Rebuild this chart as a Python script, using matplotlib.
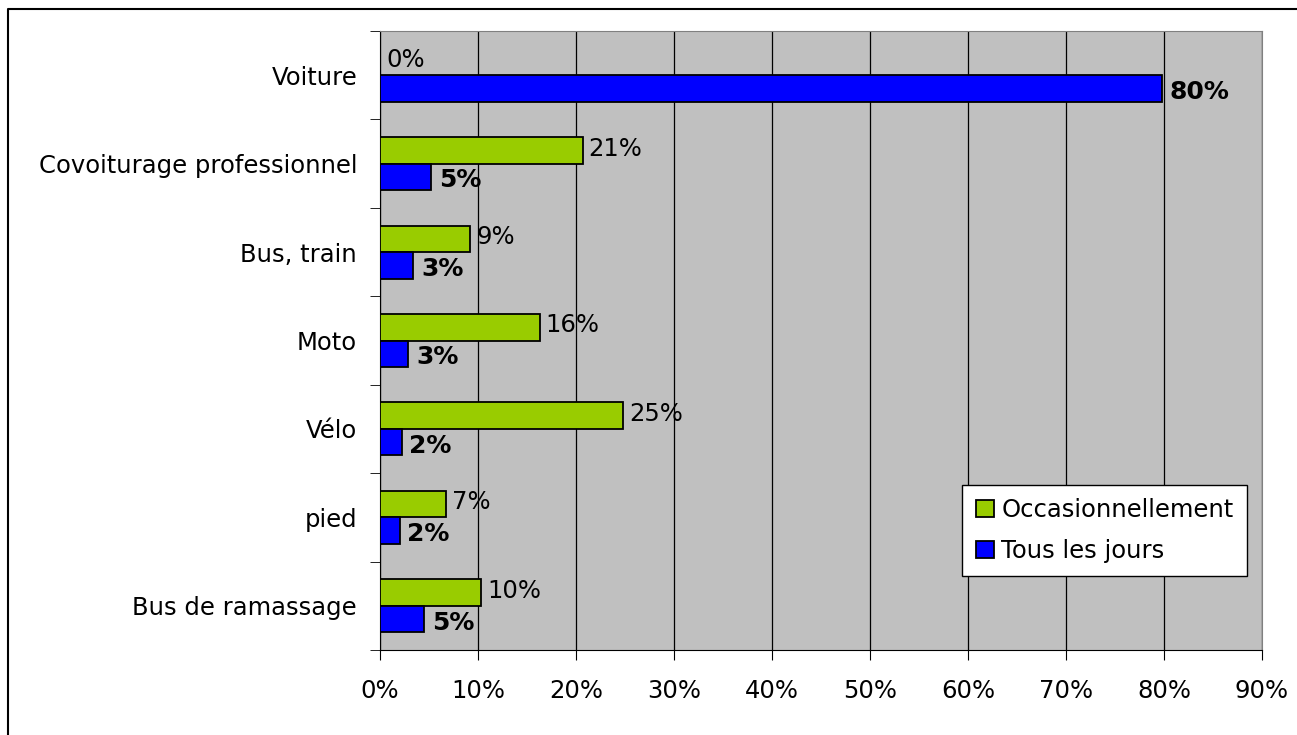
import matplotlib
matplotlib.use("Agg")
import matplotlib.pyplot as plt
from matplotlib.lines import Line2D
import numpy as np

categories = ["Voiture", "Covoiturage professionnel", "Bus, train", "Moto",
              "Vélo", "pied", "Bus de ramassage"]
occasionnel = [0.0, 20.7, 9.2, 16.3, 24.8, 6.7, 10.3]
tous_les_jours = [79.8, 5.2, 3.4, 2.9, 2.2, 2.0, 4.5]
occ_labels = ["0%", "21%", "9%", "16%", "25%", "7%", "10%"]
tlj_labels = ["80%", "5%", "3%", "3%", "2%", "2%", "5%"]
x_ticks = list(range(0, 100, 10))

plt.rcParams['font.family'] = ['DejaVu Sans']
fs = 17.5

fig = plt.figure(figsize=(12.97, 7.35), dpi=100)
ax = fig.add_axes([380/1297, 1-650/735, (1262-380)/1297, (650-31)/735])
ax.set_facecolor('#C0C0C0')

# cadre extérieur (seuls les bords gauche et haut sont visibles)
fig.lines.append(Line2D([8/1297, 8/1297, 1.0], [0.0, 1-9/735, 1-9/735],
                        transform=fig.transFigure, color='black', linewidth=1.5))

y = np.arange(len(categories))[::-1]
h = 0.3
green = '#99CC00'
blue = '#0000FF'
ax.barh(y + h/2, occasionnel, height=h, color=green, edgecolor='black',
        linewidth=1.3, label='Occasionnellement', zorder=3)
ax.barh(y - h/2, tous_les_jours, height=h, color=blue, edgecolor='black',
        linewidth=1.3, label='Tous les jours', zorder=3)

for yi, v, lab in zip(y, occasionnel, occ_labels):
    ax.text(v + 0.6, yi + h/2 + 0.02, lab, va='center', ha='left', fontsize=fs, zorder=4)
for yi, v, lab in zip(y, tous_les_jours, tlj_labels):
    ax.text(v + 0.8, yi - h/2 - 0.04, lab, va='center', ha='left', fontsize=18,
            fontweight='bold', zorder=4)

ax.set_xlim(0, 90)
ax.set_ylim(-0.5, len(categories) - 0.5)
ax.set_xticks(x_ticks)
ax.set_xticklabels([f"{t}%" for t in x_ticks], fontsize=fs)
ax.set_yticks(y)
ax.set_yticklabels(categories, fontsize=fs)
ax.set_yticks(np.arange(-0.5, len(categories), 1), minor=True)
ax.tick_params(axis='y', which='major', length=0, pad=16.5)
ax.tick_params(axis='y', which='minor', length=7, direction='out')
ax.tick_params(axis='x', length=7, direction='out', pad=14)
ax.xaxis.grid(True, color='black', linewidth=0.9, zorder=0)
ax.set_axisbelow(True)
for s in ['top', 'right']:
    ax.spines[s].set_color('#808080')
for s in ['left', 'bottom']:
    ax.spines[s].set_color('black')

leg = ax.legend(loc='lower right', bbox_to_anchor=(0.983, 0.119), fontsize=fs,
                frameon=True, fancybox=False, edgecolor='black', framealpha=1,
                handlelength=0.75, handleheight=0.75, handletextpad=0.3,
                borderpad=0.55, labelspacing=0.7, borderaxespad=0)
leg.get_frame().set_linewidth(1.0)

fig.savefig('out.png', dpi=100)
